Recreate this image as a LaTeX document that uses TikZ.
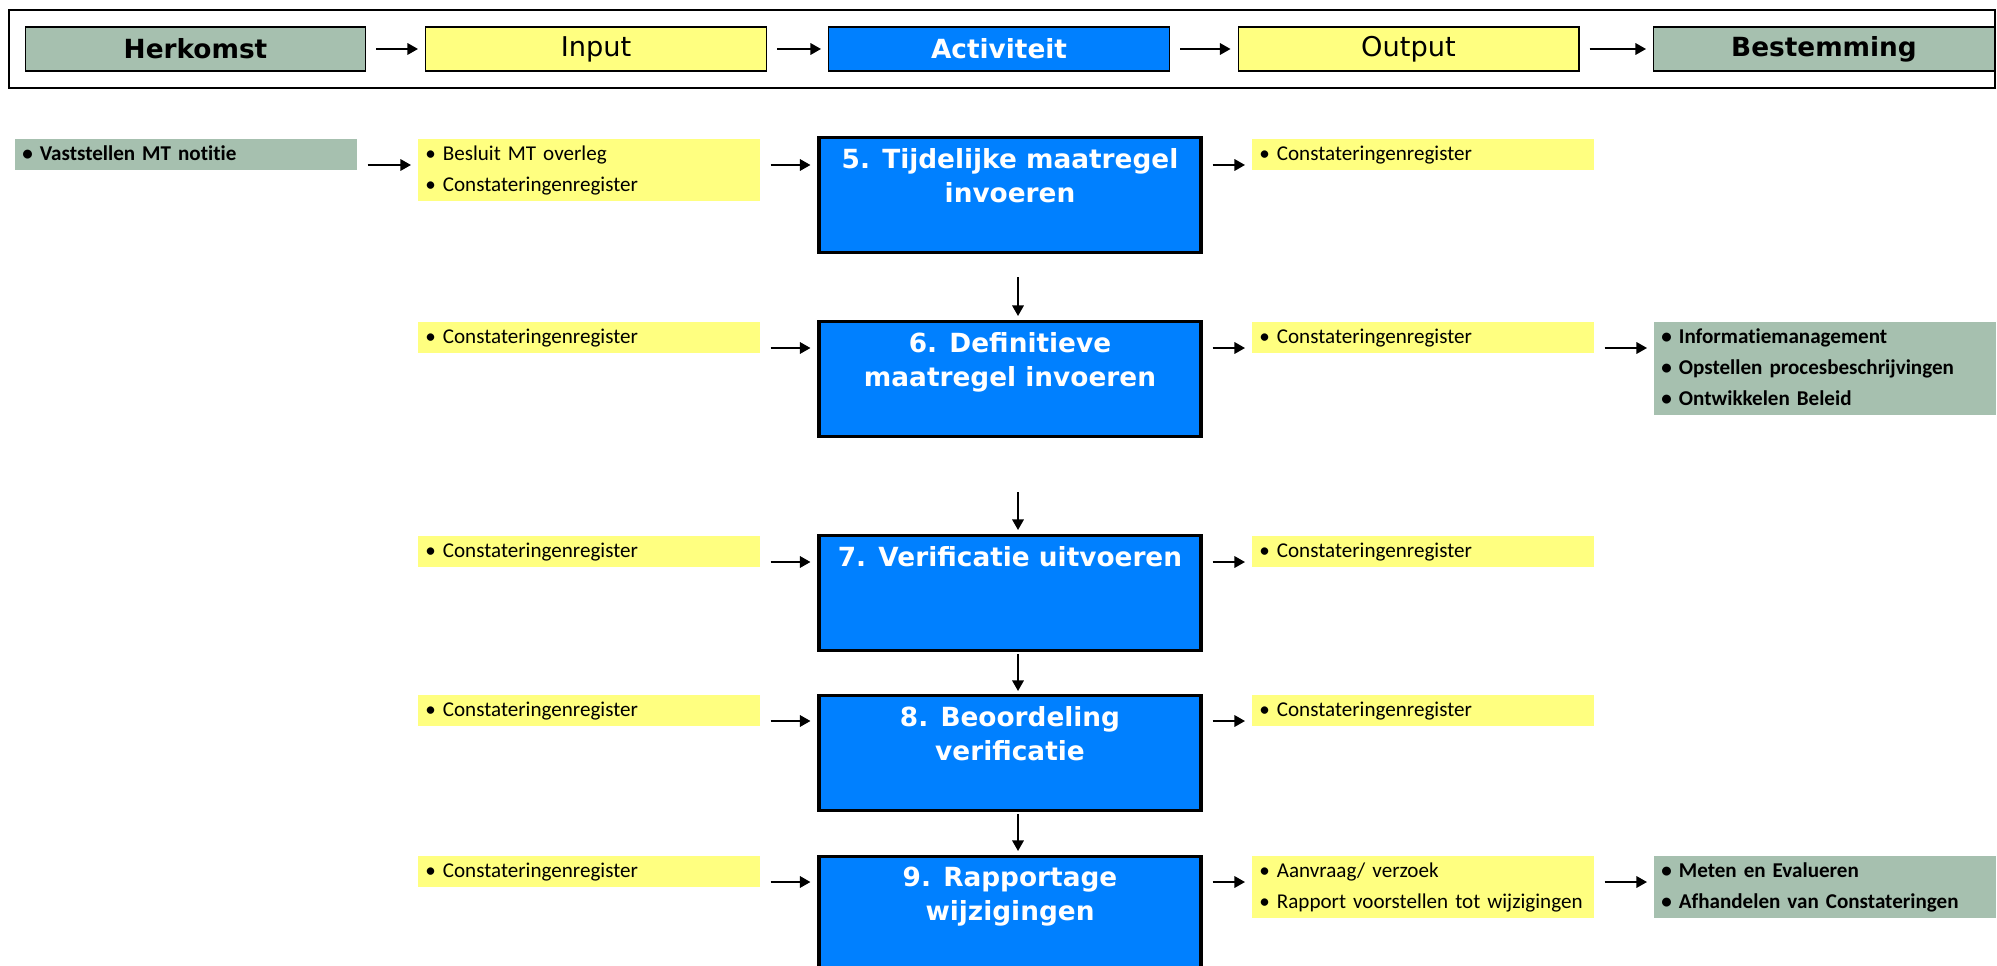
\documentclass[tikz,border=0pt]{standalone}
\usepackage{fontspec}
\setmainfont{Carlito}[Ligatures=NoCommon]
\newfontfamily\hdrfont{DejaVu Sans}
\usepackage{xcolor}
\usepackage{tikz}
\usetikzlibrary{arrows.meta, positioning}
\definecolor{herkgreen}{RGB}{166, 192, 175}
\definecolor{inyellow}{RGB}{255, 255, 128}
\definecolor{actblue}{RGB}{0, 128, 255}

\begin{document}
\begin{tikzpicture}[
    x=0.02cm, y=-0.02cm,
    hdrbox/.style={rectangle, draw=black, line width=0.6pt, minimum width=6.82cm, minimum height=0.88cm, inner sep=0pt},
    hdrbold/.style={font={\hdrfont\bfseries\fontsize{15}{18}\selectfont}},
    hdrnorm/.style={font={\hdrfont\fontsize{15.5}{18}\selectfont}},
    listbox/.style={rectangle, anchor=north west, align=left, text width=6.56cm, inner xsep=0.14cm, inner ysep=0pt,
        execute at begin node={\vrule width 0pt height 12pt\relax},
        execute at end node={\vrule width 0pt depth 5.6pt\relax},
        font={\fontsize{12}{17.6}\selectfont}},
    yellowlist/.style={listbox, fill=inyellow},
    greenlist/.style={listbox, fill=herkgreen, font={\bfseries\fontsize{12}{17.6}\selectfont}},
    actbox/.style={rectangle, anchor=north, draw=black, line width=1.8pt, fill=actblue, minimum width=7.64cm, minimum height=2.3cm},
    acttext/.style={align=center, inner sep=0pt, text=white, font={\hdrfont\bfseries\fontsize{15}{19.3}\selectfont}},
    arrow/.style={line width=1.1pt, ->, >={Triangle[length=6pt, width=6.5pt]}, shorten <=0.2cm, shorten >=0.14cm},
    downarrow/.style={line width=1.1pt, ->, >={Triangle[length=6pt, width=6.5pt]}}
]
    \useasboundingbox (0,0) rectangle (1997,966);
    \clip (0,0) rectangle (1997,966);

    \draw[line width=0.8pt] (9,10) rectangle (1995,88);
    \node[hdrbox, fill=herkgreen, hdrbold] (hHerk) at (195.5,49) {Herkomst};
    \node[hdrbox, fill=inyellow, hdrnorm] (hIn) at (596,49) {Input};
    \node[hdrbox, fill=actblue, text=white, hdrbold] (hAct) at (999,49) {Activiteit};
    \node[hdrbox, fill=inyellow, hdrnorm] (hOut) at (1408.5,49) {Output};
    \node[hdrbox, fill=herkgreen, hdrbold] (hBest) at (1824,49) {Bestemming};

    \draw[arrow] (hHerk) -- (hIn);
    \draw[arrow] (hIn) -- (hAct);
    \draw[arrow] (hAct) -- (hOut);
    \draw[arrow] (hOut) -- (hBest);

    \node[greenlist] (hk1) at (15,139) {• Vaststellen MT notitie};
    \node[yellowlist] (in1) at (418,139) {• Besluit MT overleg\\• Constateringenregister};
    \node[actbox] (act5) at (1010,136) {};
    \node[acttext, below=0.24cm of act5.north] (txt5) {5. Tijdelijke maatregel\\invoeren};
    \node[yellowlist] (out1) at (1252,139) {• Constateringenregister};

    \node[yellowlist] (in2) at (418,322) {• Constateringenregister};
    \node[actbox] (act6) at (1010,320) {};
    \node[acttext, below=0.24cm of act6.north] (txt6) {6. Definitieve\\maatregel invoeren};
    \node[yellowlist] (out2) at (1252,322) {• Constateringenregister};
    \node[greenlist] (best2) at (1654,322) {• Informatiemanagement\\• Opstellen procesbeschrijvingen\\• Ontwikkelen Beleid};

    \node[yellowlist] (in3) at (418,536) {• Constateringenregister};
    \node[actbox] (act7) at (1010,534) {};
    \node[acttext, below=0.24cm of act7.north] (txt7) {7. Verificatie uitvoeren};
    \node[yellowlist] (out3) at (1252,536) {• Constateringenregister};

    \node[yellowlist] (in4) at (418,695) {• Constateringenregister};
    \node[actbox] (act8) at (1010,694) {};
    \node[acttext, below=0.24cm of act8.north] (txt8) {8. Beoordeling\\verificatie};
    \node[yellowlist] (out4) at (1252,695) {• Constateringenregister};

    \node[yellowlist] (in5) at (418,856) {• Constateringenregister};
    \node[actbox] (act9) at (1010,855) {};
    \node[acttext, below=0.24cm of act9.north] (txt9) {9. Rapportage\\wijzigingen};
    \node[yellowlist] (out5) at (1252,856) {• Aanvraag/ verzoek\\• Rapport voorstellen tot wijzigingen};
    \node[greenlist] (best5) at (1654,856) {• Meten en Evalueren\\• Afhandelen van Constateringen};

    \coordinate (r1) at (0,165);
    \coordinate (r2) at (0,348);
    \coordinate (r3) at (0,562);
    \coordinate (r4) at (0,721);
    \coordinate (r5) at (0,882);
    \coordinate (dn) at (1018,0);

    \draw[arrow] (hk1.east |- r1) -- (in1.west |- r1);
    \draw[arrow] (in1.east |- r1) -- (act5.west |- r1);
    \draw[arrow] (act5.east |- r1) -- (out1.west |- r1);
    \draw[arrow] (in2.east |- r2) -- (act6.west |- r2);
    \draw[arrow] (act6.east |- r2) -- (out2.west |- r2);
    \draw[arrow] (out2.east |- r2) -- (best2.west |- r2);
    \draw[arrow] (in3.east |- r3) -- (act7.west |- r3);
    \draw[arrow] (act7.east |- r3) -- (out3.west |- r3);
    \draw[arrow] (in4.east |- r4) -- (act8.west |- r4);
    \draw[arrow] (act8.east |- r4) -- (out4.west |- r4);
    \draw[arrow] (in5.east |- r5) -- (act9.west |- r5);
    \draw[arrow] (act9.east |- r5) -- (out5.west |- r5);
    \draw[arrow] (out5.east |- r5) -- (best5.west |- r5);

    \draw[downarrow, shorten <=0.46cm, shorten >=0.08cm] (act5.south -| dn) -- (act6.north -| dn);
    \draw[downarrow, shorten <=1.08cm, shorten >=0.08cm] (act6.south -| dn) -- (act7.north -| dn);
    \draw[downarrow, shorten <=0.04cm, shorten >=0.06cm] (act7.south -| dn) -- (act8.north -| dn);
    \draw[downarrow, shorten <=0.04cm, shorten >=0.08cm] (act8.south -| dn) -- (act9.north -| dn);
\end{tikzpicture}
\end{document}
